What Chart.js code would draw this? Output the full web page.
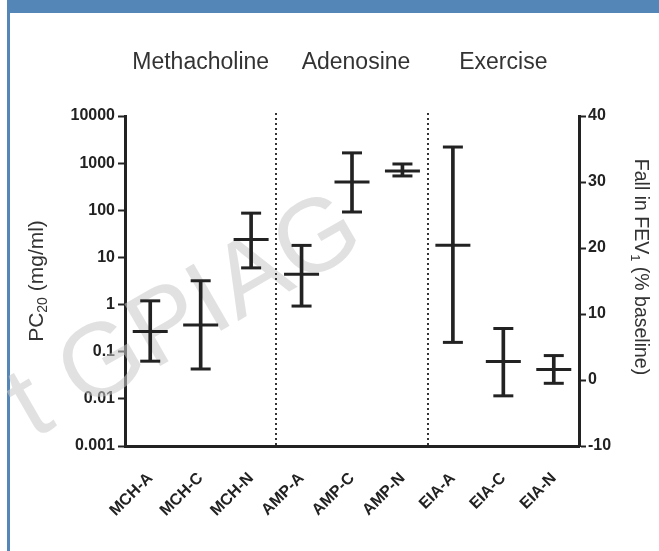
<!DOCTYPE html>
<html>
<head>
<meta charset="utf-8">
<script src="https://cdn.jsdelivr.net/npm/chart.js@4.4.1/dist/chart.umd.min.js"></script>
<style>
    body { margin: 0; background: #fff; }
    #frame {
        position: absolute; left: 7px; top: 0; width: 652px; height: 551px;
        border-top: 13px solid #5486b8; border-left: 3px solid #5486b8;
        box-sizing: border-box;
    }
    #errChart { position: absolute; left: 0; top: 0; }
</style>
</head>
<body>
<div id="frame"></div>
<canvas id="errChart" width="659" height="551"></canvas>
<script>
const FONT = "'Liberation Sans', Arial, sans-serif";
const INK = '#222';

// challenge groups shown above the plot
const groups = ['Methacholine', 'Adenosine', 'Exercise'];
const categories = ['MCH-A', 'MCH-C', 'MCH-N', 'AMP-A', 'AMP-C', 'AMP-N', 'EIA-A', 'EIA-C', 'EIA-N'];

// PC20 (mg/ml), left log axis
const pc20Mean = [0.27, 0.37, 24, 4.4, 400, 680, null, null, null];
const pc20Low = [0.063, 0.043, 6, 0.93, 92, 535, null, null, null];
const pc20High = [1.2, 3.2, 87, 18, 1650, 960, null, null, null];

// fall in FEV1 (% baseline), right axis
const fevMean = [null, null, null, null, null, null, 20.4, 2.8, 1.6];
const fevLow = [null, null, null, null, null, null, 5.7, -2.4, -0.5];
const fevHigh = [null, null, null, null, null, null, 35.3, 7.8, 3.7];

const pc20Ticks = [0.001, 0.01, 0.1, 1, 10, 100, 1000, 10000];
const pc20TickLabels = ['0.001', '0.01', '0.1', '1', '10', '100', '1000', '10000'];

// axis titles, [text, isSubscript]
const leftTitle = [['PC', false], ['20', true], [' (mg/ml)', false]];
const rightTitle = [['Fall in FEV', false], ['1', true], [' (% baseline)', false]];

function ranges(low, high) {
    return low.map((v, i) => v == null ? null : [v, high[i]]);
}

function marks(data, axis, radius) {
    return {
        type: 'line',
        data: data,
        yAxisID: axis,
        showLine: false,
        pointStyle: 'line',
        pointRadius: radius,
        pointHoverRadius: radius,
        borderColor: INK,
        borderWidth: 3,
        pointBorderWidth: 3
    };
}

// draws a title with a subscript part, centred at the origin
function subText(ctx, parts, size) {
    const fonts = parts.map(p => (p[1] ? Math.round(size * 0.68) : size) + 'px ' + FONT);
    let total = 0;
    const widths = parts.map((p, i) => {
        ctx.font = fonts[i];
        const w = ctx.measureText(p[0]).width;
        total += w;
        return w;
    });
    let x = -total / 2;
    ctx.textAlign = 'left';
    ctx.textBaseline = 'alphabetic';
    parts.forEach((p, i) => {
        ctx.font = fonts[i];
        ctx.fillText(p[0], x, size * 0.36 + (p[1] ? size * 0.22 : 0));
        x += widths[i];
    });
}

const decor = {
    id: 'decor',
    beforeDatasetsDraw(chart) {
        const ctx = chart.ctx;
        // faint watermark
        ctx.save();
        ctx.translate(186, 318);
        ctx.rotate(-30 * Math.PI / 180);
        ctx.font = '104px ' + FONT;
        ctx.fillStyle = 'rgba(200,200,200,0.55)';
        ctx.textAlign = 'center';
        ctx.textBaseline = 'middle';
        ctx.fillText('t GPIAG', 0, 0);
        ctx.restore();
    },
    afterDatasetsDraw(chart) {
        const ctx = chart.ctx;
        const x = chart.scales.x;
        const area = chart.chartArea;
        ctx.save();
        // dotted separators between challenge groups
        ctx.strokeStyle = '#333';
        ctx.lineWidth = 2;
        ctx.setLineDash([2, 3]);
        [2.5, 5.5].forEach(b => {
            const px = Math.round((x.getPixelForValue(Math.floor(b)) + x.getPixelForValue(Math.ceil(b))) / 2);
            ctx.beginPath();
            ctx.moveTo(px, area.top - 3);
            ctx.lineTo(px, area.bottom);
            ctx.stroke();
        });
        ctx.setLineDash([]);
        // group headings
        ctx.font = '23px ' + FONT;
        ctx.fillStyle = '#333';
        ctx.textAlign = 'center';
        ctx.textBaseline = 'middle';
        groups.forEach((g, i) => {
            ctx.fillText(g, x.getPixelForValue(i * 3 + 1) + (i == 1 ? 4 : 0), 63);
        });
        // axis titles
        ctx.fillStyle = '#333';
        ctx.save();
        ctx.translate(35, (area.top + area.bottom) / 2);
        ctx.rotate(-Math.PI / 2);
        subText(ctx, leftTitle, 21);
        ctx.restore();
        ctx.save();
        ctx.translate(642, 267);
        ctx.rotate(Math.PI / 2);
        subText(ctx, rightTitle, 19.5);
        ctx.restore();
        ctx.restore();
    }
};

new Chart(document.getElementById('errChart'), {
    type: 'bar',
    data: {
        labels: categories,
        datasets: [
            { data: ranges(pc20Low, pc20High), yAxisID: 'y', backgroundColor: INK, barThickness: 3, grouped: false },
            { data: ranges(fevLow, fevHigh), yAxisID: 'y2', backgroundColor: INK, barThickness: 3, grouped: false },
            marks(pc20Mean, 'y', 17.5),
            marks(pc20Low, 'y', 10),
            marks(pc20High, 'y', 10),
            marks(fevMean, 'y2', 17.5),
            marks(fevLow, 'y2', 10),
            marks(fevHigh, 'y2', 10)
        ]
    },
    options: {
        responsive: false,
        animation: false,
        layout: { padding: { top: 116, left: 0, right: 0, bottom: 0 } },
        plugins: {
            legend: { display: false },
            tooltip: { enabled: false }
        },
        scales: {
            x: {
                type: 'category',
                offset: true,
                grid: { display: false },
                border: { display: true, width: 3, color: INK },
                ticks: {
                    color: INK,
                    font: { family: FONT, size: 16, weight: 'bold' },
                    minRotation: 45,
                    maxRotation: 45,
                    padding: 15
                },
                afterFit(scale) { scale.height = 105; }
            },
            y: {
                type: 'logarithmic',
                position: 'left',
                min: 0.001,
                max: 10000,
                afterBuildTicks(scale) {
                    scale.ticks = pc20Ticks.map(v => ({ value: v }));
                },
                ticks: {
                    autoSkip: false,
                    color: INK,
                    font: { family: FONT, size: 16, weight: 'bold' },
                    padding: 3,
                    callback: (v, i) => pc20TickLabels[i]
                },
                grid: { drawOnChartArea: false, drawTicks: true, tickLength: 7, tickWidth: 2, tickColor: INK },
                border: { width: 3, color: INK },
                afterFit(scale) { scale.width = 125; }
            },
            y2: {
                type: 'linear',
                position: 'right',
                min: -10,
                max: 40,
                ticks: {
                    stepSize: 10,
                    color: INK,
                    font: { family: FONT, size: 16, weight: 'bold' },
                    padding: 2
                },
                grid: { drawOnChartArea: false, drawTicks: true, tickLength: 7, tickWidth: 2, tickColor: INK },
                border: { width: 3, color: INK },
                afterFit(scale) { scale.width = 80; }
            }
        }
    },
    plugins: [decor]
});
</script>
</body>
</html>
